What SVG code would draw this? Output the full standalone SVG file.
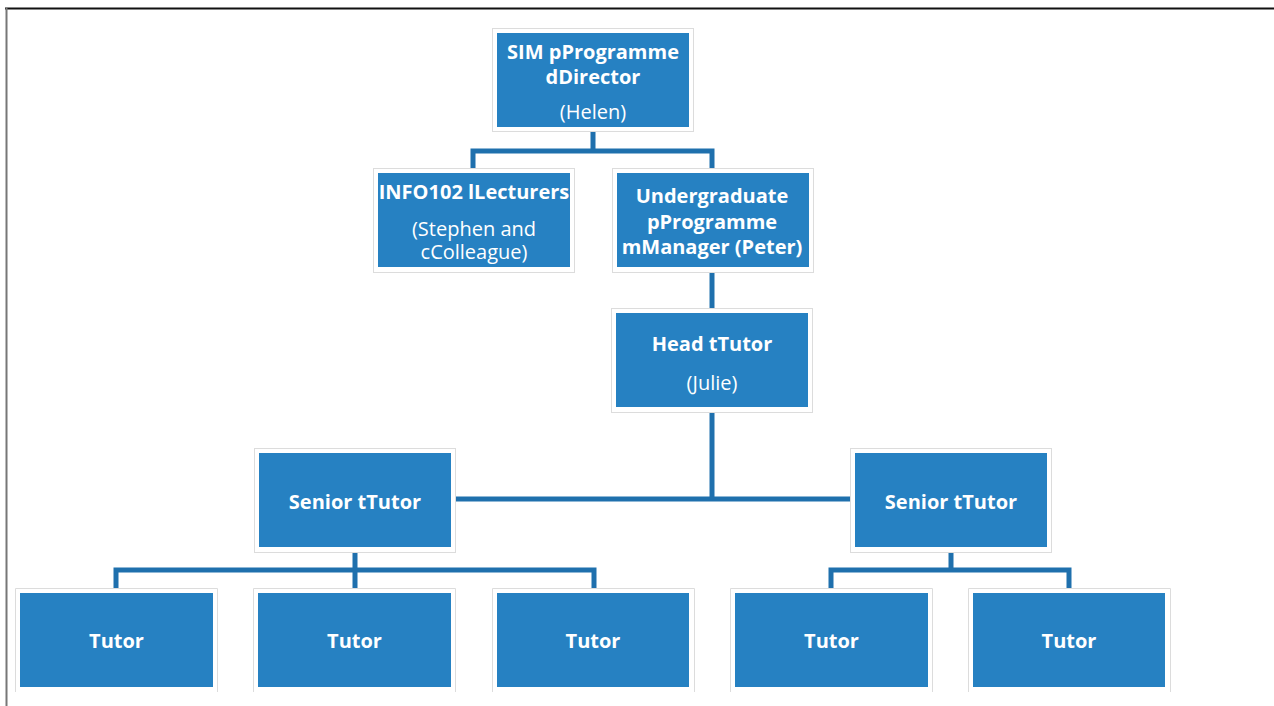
<svg xmlns="http://www.w3.org/2000/svg" width="1274" height="706" viewBox="0 0 1274 706">
<style>
.outer{fill:#ffffff;stroke:#dcdcdc;stroke-width:1}
.inner{fill:#2681c2}
.b{font-family:"Open Sans","Liberation Sans",sans-serif;font-weight:bold;font-size:20px;fill:#ffffff;text-anchor:middle}
.r{font-family:"Open Sans","Liberation Sans",sans-serif;font-size:20px;fill:#ffffff;text-anchor:middle}
.conn{fill:none;stroke:#1f70ad;stroke-width:5;stroke-linejoin:miter}
</style>
<rect x="0" y="0" width="1274" height="706" fill="#ffffff"/>
<line x1="5" y1="8.5" x2="1274" y2="8.5" stroke="#111" stroke-width="2"/>
<line x1="6.5" y1="8" x2="6.5" y2="706" stroke="#777" stroke-width="2"/>

<g id="connectors">
<path class="conn" d="M593 131V151M473 168V151H712V168"/>
<path class="conn" d="M712 272V308"/>
<path class="conn" d="M712 412V499M456 499H850"/>
<path class="conn" d="M355 552V588M116 588V570H594V588"/>
<path class="conn" d="M951 552V570M831 588V570H1069V588"/>
</g>

<g id="director">
<rect class="outer" x="492.5" y="28.5" width="201" height="103"/>
<rect class="inner" x="497" y="33" width="192" height="94"/>
<text class="b" x="593" y="59">SIM pProgramme<tspan x="593" dy="25">dDirector</tspan></text>
<text class="r" x="593" y="119">(Helen)</text>
</g>

<g id="lecturers">
<rect class="outer" x="373.5" y="168.5" width="201" height="104"/>
<rect class="inner" x="378" y="173" width="192" height="94"/>
<text class="b" x="474" y="199" font-size="19.5">INFO102 lLecturers</text>
<text class="r" x="474" y="236" font-size="19.5">(Stephen and<tspan x="474" dy="22.5">cColleague)</tspan></text>
</g>

<g id="manager">
<rect class="outer" x="612.5" y="168.5" width="201" height="104"/>
<rect class="inner" x="617" y="173" width="192" height="94"/>
<text class="b" x="712" y="203">Undergraduate<tspan x="712" dy="26">pProgramme</tspan><tspan x="712" dy="25">mManager (Peter)</tspan></text>
</g>

<g id="headtutor">
<rect class="outer" x="611.5" y="308.5" width="201" height="104"/>
<rect class="inner" x="616" y="313" width="192" height="94"/>
<text class="b" x="712" y="351">Head tTutor</text>
<text class="r" x="712" y="390">(Julie)</text>
</g>

<g id="senior1">
<rect class="outer" x="254.5" y="448.5" width="201" height="104"/>
<rect class="inner" x="259" y="453" width="192" height="94"/>
<text class="b" x="355" y="509">Senior tTutor</text>
</g>

<g id="senior2">
<rect class="outer" x="850.5" y="448.5" width="201" height="104"/>
<rect class="inner" x="855" y="453" width="192" height="94"/>
<text class="b" x="951" y="509">Senior tTutor</text>
</g>

<g id="tutor1">
<path class="outer" d="M15.5 692V588.5H217.5V692"/>
<rect class="inner" x="20" y="593" width="193" height="94"/>
<text class="b" x="116.5" y="648">Tutor</text>
</g>
<g id="tutor2">
<path class="outer" d="M253.5 692V588.5H455.5V692"/>
<rect class="inner" x="258" y="593" width="193" height="94"/>
<text class="b" x="354.5" y="648">Tutor</text>
</g>
<g id="tutor3">
<path class="outer" d="M492.5 692V588.5H694.5V692"/>
<rect class="inner" x="497" y="593" width="192" height="94"/>
<text class="b" x="593" y="648">Tutor</text>
</g>
<g id="tutor4">
<path class="outer" d="M730.5 692V588.5H932.5V692"/>
<rect class="inner" x="735" y="593" width="193" height="94"/>
<text class="b" x="831.5" y="648">Tutor</text>
</g>
<g id="tutor5">
<path class="outer" d="M968.5 692V588.5H1170.5V692"/>
<rect class="inner" x="973" y="593" width="192" height="94"/>
<text class="b" x="1069" y="648">Tutor</text>
</g>
</svg>
